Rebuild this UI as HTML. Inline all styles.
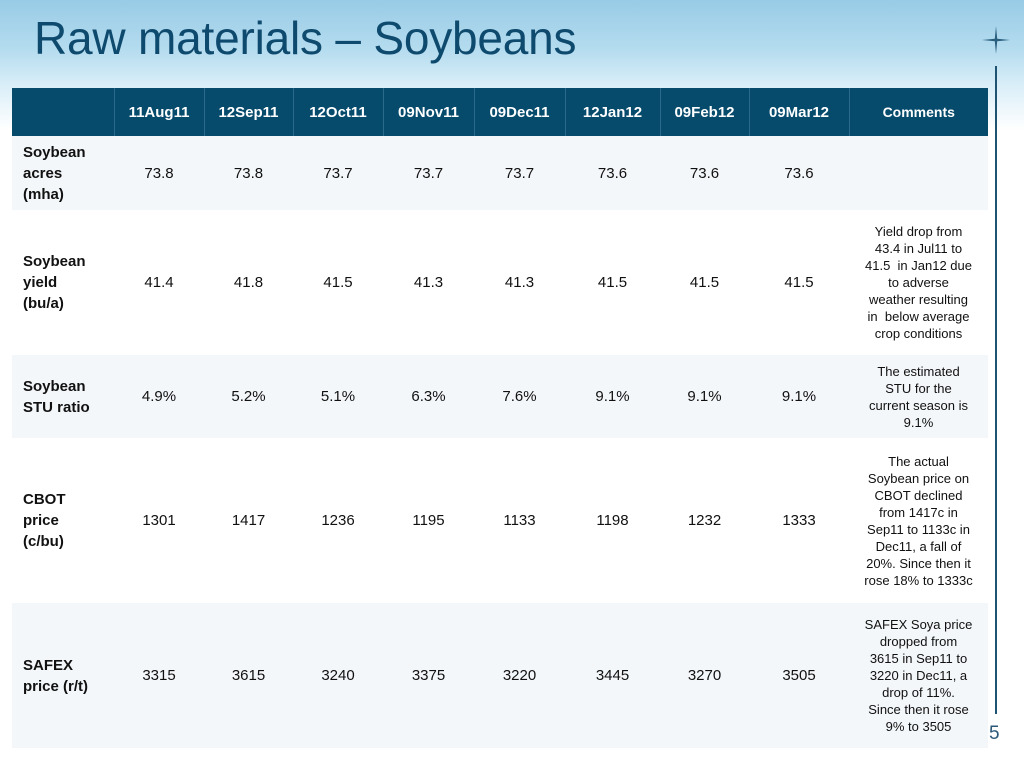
<!DOCTYPE html>
<html><head><meta charset="utf-8"><style>
html,body{margin:0;padding:0}
body{width:1024px;height:768px;position:relative;overflow:hidden;font-family:"Liberation Sans",Arial,sans-serif;
background:linear-gradient(to bottom,#98cbe6 0px,#b5dcef 50px,#d9eef8 85px,#ffffff 130px,#ffffff 768px);}
h1{position:absolute;left:34px;top:11px;margin:0;font-family:"Liberation Sans",Arial,sans-serif;font-weight:normal;font-size:46px;color:#0e4a6e;letter-spacing:-0.2px}
table{position:absolute;left:12px;top:88px;border-collapse:collapse;table-layout:fixed;width:976px;font-family:"Liberation Sans",Arial,sans-serif}
td,th{padding:0;text-align:center;vertical-align:middle;font-size:15px;color:#111;font-family:"Liberation Sans",Arial,sans-serif}
th{background:#064a6c;color:#fff;font-weight:bold;font-size:15px;height:48px;border-left:1px solid #2a6a8a}
th:first-child{border-left:none}
th.c{font-size:14px}
tr.l td{background:#f3f7f9}
td.h{text-align:left;font-weight:bold;padding-left:11px;line-height:21px}
td.cm{font-size:13px;line-height:17px;padding:0 8px}
.vl{position:absolute;left:995px;top:66px;width:2px;height:648px;background:#1e5472}
.pn{position:absolute;left:989px;top:723px;font-size:19px;color:#2a5a78;font-family:"Liberation Sans",Arial,sans-serif}
</style></head><body>
<h1>Raw materials – Soybeans</h1>
<svg style="position:absolute;left:980px;top:24px" width="32" height="32" viewBox="0 0 32 32">
<path d="M16 2 L17.2 14.8 L30 16 L17.2 17.2 L16 30 L14.8 17.2 L2 16 L14.8 14.8 Z" fill="#2a5f7e"/>
</svg>
<div class="vl"></div>
<table>
<colgroup><col style="width:102px"><col style="width:90px"><col style="width:89px"><col style="width:90px"><col style="width:91px"><col style="width:91px"><col style="width:95px"><col style="width:89px"><col style="width:100px"><col style="width:139px"></colgroup>
<tr><th></th><th>11Aug11</th><th>12Sep11</th><th>12Oct11</th><th>09Nov11</th><th>09Dec11</th><th>12Jan12</th><th>09Feb12</th><th>09Mar12</th><th class="c">Comments</th></tr>
<tr class="l" style="height:74px"><td class="h">Soybean<br>acres<br>(mha)</td><td>73.8</td><td>73.8</td><td>73.7</td><td>73.7</td><td>73.7</td><td>73.6</td><td>73.6</td><td>73.6</td><td></td></tr>
<tr style="height:145px"><td class="h">Soybean<br>yield<br>(bu/a)</td><td>41.4</td><td>41.8</td><td>41.5</td><td>41.3</td><td>41.3</td><td>41.5</td><td>41.5</td><td>41.5</td><td class="cm">Yield drop from<br>43.4 in Jul11 to<br>41.5&nbsp; in Jan12 due<br>to adverse<br>weather resulting<br>in&nbsp; below average<br>crop conditions</td></tr>
<tr class="l" style="height:83px"><td class="h">Soybean<br>STU ratio</td><td>4.9%</td><td>5.2%</td><td>5.1%</td><td>6.3%</td><td>7.6%</td><td>9.1%</td><td>9.1%</td><td>9.1%</td><td class="cm">The estimated<br>STU for the<br>current season is<br>9.1%</td></tr>
<tr style="height:165px"><td class="h">CBOT<br>price<br>(c/bu)</td><td>1301</td><td>1417</td><td>1236</td><td>1195</td><td>1133</td><td>1198</td><td>1232</td><td>1333</td><td class="cm">The actual<br>Soybean price on<br>CBOT declined<br>from 1417c in<br>Sep11 to 1133c in<br>Dec11, a fall of<br>20%. Since then it<br>rose 18% to 1333c</td></tr>
<tr class="l" style="height:145px"><td class="h">SAFEX<br>price (r/t)</td><td>3315</td><td>3615</td><td>3240</td><td>3375</td><td>3220</td><td>3445</td><td>3270</td><td>3505</td><td class="cm">SAFEX Soya price<br>dropped from<br>3615 in Sep11 to<br>3220 in Dec11, a<br>drop of 11%.<br>Since then it rose<br>9% to 3505</td></tr>
</table>
<div class="pn">5</div>
</body></html>
